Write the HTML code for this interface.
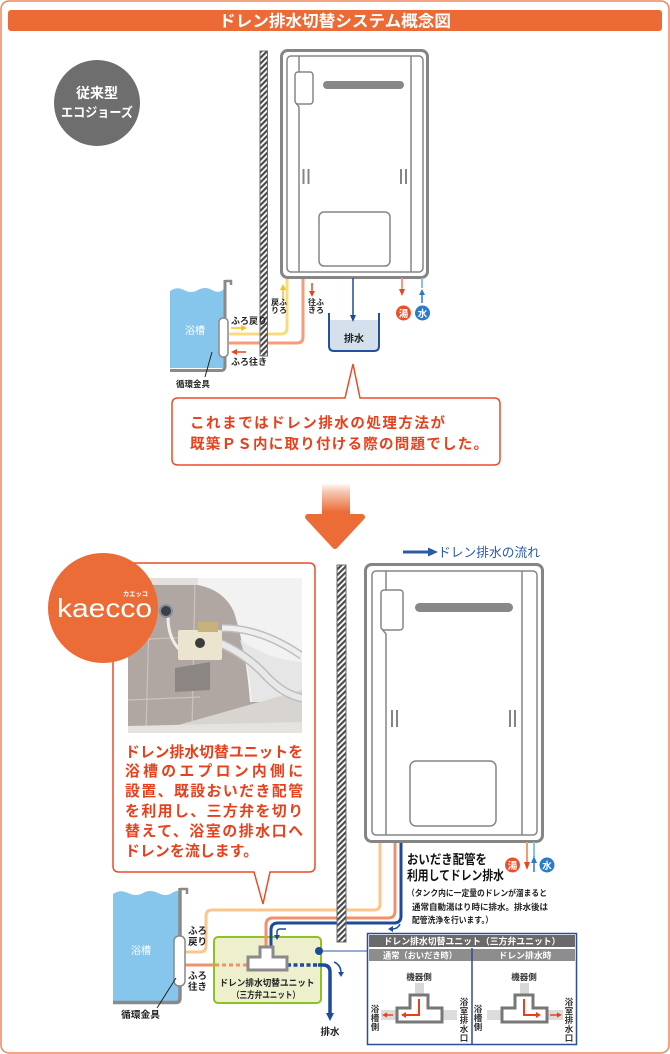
<!DOCTYPE html>
<html><head><meta charset="utf-8">
<style>
html,body{margin:0;padding:0;background:#fff;}
svg{display:block;}
text{font-family:"Liberation Sans","Noto Sans CJK JP",sans-serif;}
</style></head><body>
<svg width="670" height="1054" viewBox="0 0 670 1054" xmlns="http://www.w3.org/2000/svg">
<defs>
<pattern id="h" width="4" height="4" patternUnits="userSpaceOnUse" patternTransform="rotate(45)">
<rect width="4" height="4" fill="#fff"/><rect width="2.2" height="4" fill="#4a4a4a"/>
</pattern>
<linearGradient id="ag" x1="0" y1="483" x2="0" y2="512" gradientUnits="userSpaceOnUse">
<stop offset="0" stop-color="#fff"/><stop offset="0.3" stop-color="#f6c7b1"/><stop offset="1" stop-color="#ec6c38"/>
</linearGradient>
<clipPath id="pc"><rect x="128" y="578" width="174" height="155"/></clipPath>
</defs>

<!-- frame -->
<rect x="1" y="1" width="668" height="1052" rx="8" fill="#fff" stroke="#ee855a" stroke-width="1.5"/>
<rect x="8" y="10" width="654" height="21" rx="3" fill="#ec6a36"/>
<text x="335" y="26.5" text-anchor="middle" fill="#fff" font-size="16" font-weight="bold" textLength="232" lengthAdjust="spacingAndGlyphs">ドレン排水切替システム概念図</text>

<!-- old type circle -->
<circle cx="97" cy="103" r="43" fill="#6e6e6e"/>
<text x="97" y="98" text-anchor="middle" fill="#fff" font-size="14" font-weight="bold">従来型</text>
<text x="97" y="117" text-anchor="middle" fill="#fff" font-size="13" font-weight="bold" textLength="72" lengthAdjust="spacingAndGlyphs">エコジョーズ</text>

<!-- ===== TOP DIAGRAM ===== -->
<path d="M229,334 H281 Q287,334 287,328 V278" fill="none" stroke="#f8dc7c" stroke-width="3"/>
<path d="M229,343 H297 Q303,343 303,337 V278" fill="none" stroke="#f49c7c" stroke-width="3"/>
<rect x="260" y="51" width="7.5" height="305" fill="url(#h)" stroke="#6a6a6a" stroke-width="1"/>

<rect x="281.5" y="50.5" width="146" height="227" rx="6" fill="#fff" stroke="#858585" stroke-width="3"/>
<rect x="287" y="56" width="136" height="216" rx="4" fill="none" stroke="#858585" stroke-width="1.5"/>
<g stroke="#858585" stroke-width="1.5" fill="none">
<line x1="299" y1="56" x2="299" y2="72"/>
<rect x="295" y="72" width="18" height="32" rx="3" fill="#fff"/>
<path d="M296,103 L299,107 V272"/>
<line x1="411" y1="56" x2="411" y2="272"/>
<rect x="319" y="212" width="71" height="54" rx="5"/>
</g>
<line x1="327" y1="85" x2="400" y2="85" stroke="#888" stroke-width="8" stroke-linecap="round"/>
<g stroke="#858585" stroke-width="2">
<line x1="303.5" y1="169" x2="303.5" y2="184"/><line x1="308.5" y1="169" x2="308.5" y2="184"/>
<line x1="401" y1="169" x2="401" y2="184"/><line x1="406" y1="169" x2="406" y2="184"/>
</g>

<line x1="283" y1="299" x2="283" y2="289" stroke="#f5c21a" stroke-width="1.5"/>
<polygon points="280,290 286,290 283,284" fill="#f5c21a"/>
<line x1="312" y1="283" x2="312" y2="292" stroke="#e9461f" stroke-width="1.5"/>
<polygon points="309,291 315,291 312,297" fill="#e9461f"/>
<g font-size="8" font-weight="bold" fill="#222" text-anchor="middle">
<text x="275" y="305">戻</text><text x="283" y="305">ふ</text>
<text x="275" y="313">り</text><text x="283" y="313">ろ</text>
<text x="312" y="305">往</text><text x="320" y="305">ふ</text>
<text x="312" y="313">き</text><text x="320" y="313">ろ</text>
</g>

<path d="M170,291 Q177,286 184,290 T198,290 T212,290 T224,289 V368 H170 Z" fill="#86c6ec"/>
<path d="M225,280 V366 Q225,370.5 221,370.5 H170" fill="none" stroke="#8a8a8a" stroke-width="3"/>
<path d="M225,281 H231 V285" fill="none" stroke="#8a8a8a" stroke-width="2.5"/>
<text x="195" y="334" text-anchor="middle" fill="#fff" font-size="10">浴槽</text>
<rect x="219" y="318" width="9" height="39" rx="4" fill="#fff" stroke="#888" stroke-width="1.5"/>
<text x="231" y="324" font-size="9" font-weight="bold" fill="#222">ふろ戻り</text>
<line x1="231" y1="328" x2="242" y2="328" stroke="#f5c21a" stroke-width="1.5"/>
<polygon points="241,325 241,331 247,328" fill="#f5c21a"/>
<line x1="246" y1="352" x2="236" y2="352" stroke="#e9461f" stroke-width="1.5"/>
<polygon points="237,349 237,355 231,352" fill="#e9461f"/>
<text x="231" y="365" font-size="9" font-weight="bold" fill="#222">ふろ往き</text>
<line x1="212" y1="352" x2="205" y2="377" stroke="#222" stroke-width="1"/>
<text x="176" y="387" font-size="8.5" font-weight="bold" fill="#222">循環金具</text>

<rect x="329" y="320" width="50" height="31" fill="#d4e1ec"/>
<path d="M329,313 V346 Q329,351 334,351 H374 Q379,351 379,346 V313" fill="none" stroke="#24509c" stroke-width="2"/>
<text x="354" y="342" text-anchor="middle" font-size="10" font-weight="bold" fill="#222">排水</text>
<line x1="353" y1="278" x2="353" y2="316" stroke="#1f4a98" stroke-width="1.5"/>
<polygon points="350,315 356,315 353,322" fill="#1f4a98"/>

<line x1="402" y1="278" x2="402" y2="290" stroke="#f39a7a" stroke-width="2"/>
<polygon points="399,289 405,289 402,296" fill="#e9461f"/>
<line x1="422" y1="278" x2="422" y2="288" stroke="#8cc1e8" stroke-width="2"/>
<polygon points="419,295 425,295 422,289" fill="#2a7bc8"/>
<line x1="422" y1="294" x2="422" y2="303" stroke="#2a7bc8" stroke-width="1.5"/>
<circle cx="403.5" cy="313" r="7.5" fill="#e9502a"/>
<text x="403.5" y="317" text-anchor="middle" fill="#fff" font-size="9.5" font-weight="bold">湯</text>
<circle cx="422.5" cy="313" r="7.5" fill="#2a7bc8"/>
<text x="422.5" y="317" text-anchor="middle" fill="#fff" font-size="9.5" font-weight="bold">水</text>

<path d="M178,398 H345 L353,364 L360,398 H494 Q500,398 500,404 V459 Q500,465 494,465 H178 Q172,465 172,459 V404 Q172,398 178,398 Z" fill="#fff" stroke="#e84d26" stroke-width="1.5"/>
<text x="190" y="428" font-size="14.5" font-weight="bold" fill="#e8401c" textLength="255" lengthAdjust="spacing">これまではドレン排水の処理方法が</text>
<text x="190" y="449" font-size="14.5" font-weight="bold" fill="#e8401c" textLength="298" lengthAdjust="spacing">既築ＰＳ内に取り付ける際の問題でした。</text>

<rect x="322" y="483" width="28" height="34" fill="url(#ag)"/>
<polygon points="308,517 362,517 335,546" fill="#ec6c38" stroke="#ec6c38" stroke-width="6" stroke-linejoin="round"/>

<!-- ===== BOTTOM ===== -->
<line x1="403" y1="552" x2="430" y2="552" stroke="#2c5aa6" stroke-width="3"/>
<polygon points="428,547.5 428,556.5 438,552" fill="#2c5aa6"/>
<text x="438" y="557" font-size="13" fill="#2c5aa6" textLength="102" lengthAdjust="spacingAndGlyphs">ドレン排水の流れ</text>

<path d="M119,563 H309 Q315,563 315,569 V866 Q315,872 309,872 H270 L263,904 L254,872 H119 Q113,872 113,866 V569 Q113,563 119,563 Z" fill="#fff" stroke="#e84d26" stroke-width="1.5"/>

<!-- photo -->
<g clip-path="url(#pc)">
<rect x="128" y="578" width="174" height="155" fill="#b0a7a3"/>
<g stroke="#cac3bf" stroke-width="1.2" fill="none">
<line x1="128" y1="640" x2="215" y2="636"/>
<line x1="128" y1="700" x2="200" y2="697"/>
<line x1="150" y1="578" x2="146" y2="733"/>
<line x1="195" y1="578" x2="192" y2="733"/>
</g>
<rect x="128" y="578" width="174" height="7" fill="#e2dfdc"/>
<path d="M198,578 H302 V702 L250,702 Q246,650 234,612 Q224,590 198,585 Z" fill="#f2f2f2"/>
<path d="M240,640 Q270,660 302,662 V702 L252,702 Q250,670 240,640 Z" fill="#e6e6e6"/>
<polygon points="150,733 302,690 302,733" fill="#d8d4d0"/>
<polygon points="128,726 302,722 302,733 128,733" fill="#e6e2de"/>
<path d="M212,640 Q245,652 268,678 Q285,695 302,698" fill="none" stroke="#bdbdbd" stroke-width="9"/>
<path d="M212,640 Q245,652 268,678 Q285,695 302,698" fill="none" stroke="#e8e8e8" stroke-width="6"/>
<path d="M222,628 Q262,628 302,656" fill="none" stroke="#bdbdbd" stroke-width="8"/>
<path d="M222,628 Q262,628 302,656" fill="none" stroke="#eeeeee" stroke-width="5"/>
<path d="M168,617 Q168,640 182,652" fill="none" stroke="#eee" stroke-width="3"/>
<circle cx="166" cy="611" r="6" fill="#3a4048" stroke="#8a9099" stroke-width="2"/>
<rect x="178" y="630" width="44" height="30" rx="2" fill="#ebe5cf"/>
<rect x="198" y="622" width="20" height="10" fill="#c8b27a"/>
<circle cx="200" cy="643" r="5" fill="#3b3b3b"/>
<polygon points="175,668 210,662 210,690 175,692" fill="#8c8682"/>
</g>

<g font-size="14.8" font-weight="bold" fill="#e8401c">
<text x="125" y="757" textLength="178" lengthAdjust="spacing">ドレン排水切替ユニットを</text>
<text x="125" y="776" textLength="178" lengthAdjust="spacing">浴槽のエプロン内側に</text>
<text x="125" y="796" textLength="178" lengthAdjust="spacing">設置、既設おいだき配管</text>
<text x="125" y="816" textLength="178" lengthAdjust="spacing">を利用し、三方弁を切り</text>
<text x="125" y="836" textLength="178" lengthAdjust="spacing">替えて、浴室の排水口へ</text>
<text x="125" y="856" textLength="133" lengthAdjust="spacing">ドレンを流します。</text>
</g>

<!-- kaecco -->
<circle cx="103" cy="608" r="55" fill="#ec6c38"/>
<text x="57" y="617" font-size="26" fill="#fff" textLength="95" lengthAdjust="spacingAndGlyphs">kaecco</text>
<text x="123" y="596" font-size="6.5" font-weight="bold" fill="#fff" textLength="25" lengthAdjust="spacingAndGlyphs">カエッコ</text>

<!-- pipes bottom -->
<path d="M185,952 H200 Q206,952 206,946 V916 Q206,910 212,910 H374 Q380,910 380,904 V842" fill="none" stroke="#f9c68e" stroke-width="3"/>
<rect x="214" y="937" width="107" height="66" rx="4" fill="#eef0cd" stroke="#8dc21f" stroke-width="2"/>
<path d="M266,947 V925 Q266,918 273,918 H388 Q395,918 395,911 V842" fill="none" stroke="#f3906c" stroke-width="3"/>
<path d="M271,947 V930 Q271,923 278,923 H394 Q401,923 401,916 V842" fill="none" stroke="#1d4b9a" stroke-width="3"/>
<line x1="185" y1="965" x2="214" y2="965" stroke="#f3906c" stroke-width="3"/>
<line x1="215" y1="965" x2="248" y2="965" stroke="#f3906c" stroke-width="3" stroke-dasharray="4 3"/>
<line x1="287" y1="965" x2="318" y2="965" stroke="#1d4b9a" stroke-width="3.5" stroke-dasharray="4 2.5"/>
<path d="M318,965 H323 Q330,965 330,972 V1014" fill="none" stroke="#1d4b9a" stroke-width="3.5"/>
<polygon points="326,1013 334,1013 330,1021" fill="#1d4b9a"/>
<text x="330" y="1035" text-anchor="middle" font-size="9.5" font-weight="bold" fill="#222">排水</text>
<path d="M260,947 H273 V957 H287 V970 H248 V957 H260 Z" fill="#fff" stroke="#8a8a8a" stroke-width="3"/>
<text x="267" y="986" text-anchor="middle" font-size="9" font-weight="bold" fill="#222" textLength="95" lengthAdjust="spacingAndGlyphs">ドレン排水切替ユニット</text>
<text x="266" y="998" text-anchor="middle" font-size="9" font-weight="bold" fill="#222" textLength="68" lengthAdjust="spacingAndGlyphs">（三方弁ユニット）</text>
<path d="M286,929 H280 Q277,929 277,932 V936" fill="none" stroke="#1d4b9a" stroke-width="1.5"/>
<polygon points="274,935 280,935 277,940" fill="#1d4b9a"/>
<path d="M334,962 Q341,965 341,973" fill="none" stroke="#1d4b9a" stroke-width="1.5"/>
<polygon points="338,972 344,972 341,977" fill="#1d4b9a"/>
<path d="M400,924 Q398,929 392,929" fill="none" stroke="#1d4b9a" stroke-width="1.5"/>
<polygon points="393,926 393,932 388,929" fill="#1d4b9a"/>
<line x1="319" y1="951" x2="367" y2="951" stroke="#2c5aa6" stroke-width="1"/>
<circle cx="319" cy="951" r="4" fill="#1d4b9a"/>

<rect x="337" y="565" width="9" height="377" fill="url(#h)" stroke="#6a6a6a" stroke-width="1"/>

<path d="M113,894 Q120,889 128,893 T143,893 T158,893 T172,893 T179,892 V1001 H113 Z" fill="#86c6ec"/>
<path d="M180,888 V998 Q180,1002.5 176,1002.5 H113" fill="none" stroke="#8a8a8a" stroke-width="3.5"/>
<path d="M180,889 H187 V894" fill="none" stroke="#8a8a8a" stroke-width="2.5"/>
<text x="141" y="954" text-anchor="middle" fill="#fff" font-size="10">浴槽</text>
<rect x="174" y="936" width="11" height="50" rx="5" fill="#fff" stroke="#888" stroke-width="1.5"/>
<g font-size="9.5" font-weight="bold" fill="#222">
<text x="188" y="934">ふろ</text><text x="188" y="945">戻り</text>
<text x="188" y="979">ふろ</text><text x="188" y="990">往き</text>
</g>
<line x1="176" y1="978" x2="157" y2="1008" stroke="#222" stroke-width="1"/>
<text x="121" y="1018" font-size="9.5" font-weight="bold" fill="#222" textLength="39" lengthAdjust="spacingAndGlyphs">循環金具</text>

<rect x="365.5" y="564.5" width="177" height="277" rx="6" fill="#fff" stroke="#858585" stroke-width="3"/>
<rect x="372" y="571" width="165" height="264" rx="4" fill="none" stroke="#858585" stroke-width="1.5"/>
<g stroke="#858585" stroke-width="1.5" fill="none">
<line x1="386" y1="571" x2="386" y2="590"/>
<rect x="381" y="590" width="22" height="40" rx="3" fill="#fff"/>
<path d="M382,629 L386,634 V835"/>
<line x1="522" y1="571" x2="522" y2="835"/>
<rect x="410" y="761" width="86" height="65" rx="6"/>
</g>
<line x1="419.5" y1="607.5" x2="508.5" y2="607.5" stroke="#888" stroke-width="9" stroke-linecap="round"/>
<g stroke="#858585" stroke-width="2">
<line x1="392" y1="710" x2="392" y2="727"/><line x1="397" y1="710" x2="397" y2="727"/>
<line x1="510" y1="710" x2="510" y2="727"/><line x1="515" y1="710" x2="515" y2="727"/>
</g>

<line x1="527" y1="842" x2="527" y2="863" stroke="#f39a7a" stroke-width="2"/>
<polygon points="524,862 530,862 527,870" fill="#e9461f"/>
<line x1="534" y1="842" x2="534" y2="857" stroke="#8cc1e8" stroke-width="2"/>
<polygon points="531,863 537,863 534,856" fill="#2a7bc8"/>
<line x1="534" y1="862" x2="534" y2="872" stroke="#2a7bc8" stroke-width="1.5"/>
<circle cx="512.5" cy="865" r="7.5" fill="#e9502a"/>
<text x="512.5" y="869" text-anchor="middle" fill="#fff" font-size="9.5" font-weight="bold">湯</text>
<circle cx="547" cy="865" r="7.5" fill="#2a7bc8"/>
<text x="547" y="869" text-anchor="middle" fill="#fff" font-size="9.5" font-weight="bold">水</text>

<text x="407" y="864" font-size="13" font-weight="bold" fill="#111" textLength="80" lengthAdjust="spacingAndGlyphs">おいだき配管を</text>
<text x="407" y="880" font-size="13" font-weight="bold" fill="#111" textLength="97" lengthAdjust="spacingAndGlyphs">利用してドレン排水</text>
<text x="407" y="896" font-size="8.5" font-weight="bold" fill="#222" textLength="140" lengthAdjust="spacingAndGlyphs">（タンク内に一定量のドレンが溜まると</text>
<text x="412" y="910" font-size="8.5" font-weight="bold" fill="#222" textLength="136" lengthAdjust="spacingAndGlyphs">通常自動湯はり時に排水。排水後は</text>
<text x="412" y="923" font-size="8.5" font-weight="bold" fill="#222" textLength="81" lengthAdjust="spacingAndGlyphs">配管洗浄を行います。）</text>

<rect x="367.5" y="933.5" width="209" height="111" fill="#fff" stroke="#2a4e9a" stroke-width="1.5"/>
<rect x="369" y="935" width="206" height="12" fill="#6a6a6a"/>
<rect x="369" y="949" width="206" height="12" fill="#8d8d8d"/>
<line x1="472" y1="948" x2="472" y2="1045" stroke="#2a4e9a" stroke-width="1.5"/>
<text x="472" y="944.5" text-anchor="middle" font-size="9" font-weight="bold" fill="#fff" textLength="177" lengthAdjust="spacingAndGlyphs">ドレン排水切替ユニット（三方弁ユニット）</text>
<text x="420" y="958.5" text-anchor="middle" font-size="8.5" font-weight="bold" fill="#fff" textLength="74" lengthAdjust="spacingAndGlyphs">通常（おいだき時）</text>
<text x="525" y="958.5" text-anchor="middle" font-size="8.5" font-weight="bold" fill="#fff" textLength="53" lengthAdjust="spacingAndGlyphs">ドレン排水時</text>

<text x="419" y="980" text-anchor="middle" font-size="8.5" font-weight="bold" fill="#333">機器側</text>
<rect x="415" y="983" width="9" height="12" fill="#d8d8d8"/>
<rect x="381" y="1010" width="16" height="10" fill="#dcdcdc"/>
<rect x="442" y="1010" width="15" height="10" fill="#dcdcdc"/>
<path d="M410,995 H428 V1008 H442 V1022 H397 V1008 H410 Z" fill="#fff" stroke="#777" stroke-width="3"/>
<path d="M419,999 V1015 H405" fill="none" stroke="#e8401c" stroke-width="2"/>
<polygon points="406,1012 406,1018 401,1015" fill="#e8401c"/>
<line x1="393" y1="1015" x2="386" y2="1015" stroke="#e8401c" stroke-width="1.5"/>
<polygon points="387,1012.5 387,1017.5 382,1015" fill="#e8401c"/>
<g font-size="8.5" font-weight="bold" fill="#333" text-anchor="middle">
<text x="375" y="1012">浴</text><text x="375" y="1021">槽</text><text x="375" y="1030">側</text>
<text x="464" y="1005">浴</text><text x="464" y="1014">室</text><text x="464" y="1023">排</text><text x="464" y="1032">水</text><text x="464" y="1041">口</text>
</g>

<text x="524" y="980" text-anchor="middle" font-size="8.5" font-weight="bold" fill="#333">機器側</text>
<rect x="520" y="983" width="9" height="12" fill="#d8d8d8"/>
<rect x="487" y="1010" width="15" height="10" fill="#dcdcdc"/>
<rect x="547" y="1010" width="16" height="10" fill="#dcdcdc"/>
<path d="M515,995 H533 V1008 H547 V1022 H502 V1008 H515 Z" fill="#fff" stroke="#777" stroke-width="3"/>
<path d="M524,999 V1015 H537" fill="none" stroke="#e8401c" stroke-width="2"/>
<polygon points="536,1012 536,1018 541,1015" fill="#e8401c"/>
<line x1="550" y1="1015" x2="558" y2="1015" stroke="#e8401c" stroke-width="1.5"/>
<polygon points="557,1012.5 557,1017.5 562,1015" fill="#e8401c"/>
<g font-size="8.5" font-weight="bold" fill="#333" text-anchor="middle">
<text x="478" y="1012">浴</text><text x="478" y="1021">槽</text><text x="478" y="1030">側</text>
<text x="569" y="1005">浴</text><text x="569" y="1014">室</text><text x="569" y="1023">排</text><text x="569" y="1032">水</text><text x="569" y="1041">口</text>
</g>
</svg>
</body></html>
